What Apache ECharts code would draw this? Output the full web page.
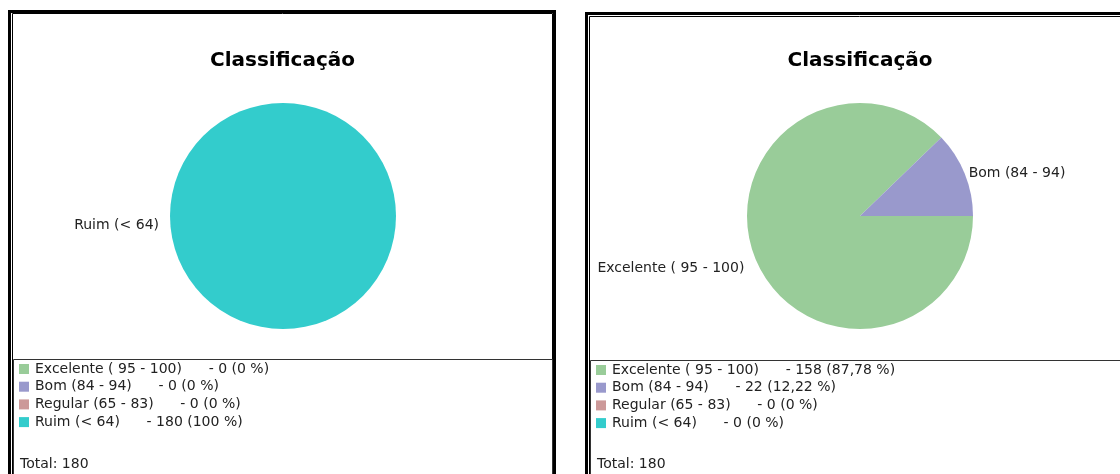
<!DOCTYPE html>
<html>
<head>
<meta charset="utf-8">
<script src="https://cdn.jsdelivr.net/npm/echarts@6/dist/echarts.min.js"></script>
<style>
  html, body { margin: 0; padding: 0; width: 1120px; height: 474px; overflow: hidden; background: #fff; }
  .panel { position: absolute; height: 464px; }
</style>
</head>
<body>
<div id="left" class="panel" style="left:8px; top:10px; width:549px;"></div>
<div id="right" class="panel" style="left:585px; top:12px; width:550px;"></div>
<script>
// Classification ranges and their colours
const categories = ['Excelente ( 95 - 100)', 'Bom (84 - 94)', 'Regular (65 - 83)', 'Ruim (< 64)'];
const colors = ['#99CC99', '#9999CC', '#CC9999', '#33CCCC'];

// Counts per range for each group
const valuesLeft = [0, 0, 0, 180];
const valuesRight = [158, 22, 0, 0];

const chartTitle = 'Classificação';
const FONT = '"DejaVu Sans", Verdana, sans-serif';
const PIE_CX = 275;

function pctText(v, total) {
  const p = total ? v / total * 100 : 0;
  return String(Math.round(p * 100) / 100).replace('.', ',') + ' %';
}

function buildOption(values, frame) {
  const total = values.reduce((a, b) => a + b, 0);
  const data = categories.map((name, i) => ({
    name: name,
    value: values[i],
    itemStyle: { color: colors[i] },
    label: { show: values[i] > 0 }
  }));
  return {
    animation: false,
    title: [
      {
        text: chartTitle,
        left: 'center',
        top: frame.titleTop,
        textStyle: { fontFamily: FONT, fontSize: 20, fontWeight: 'bold', color: '#000' }
      },
      {
        text: 'Total: ' + total,
        left: 12,
        top: frame.totalTop,
        padding: 0,
        textStyle: { fontFamily: FONT, fontSize: 14, lineHeight: 16, fontWeight: 'normal', color: '#222' }
      }
    ],
    legend: {
      orient: 'vertical',
      left: 11,
      top: frame.legendTop,
      padding: 0,
      itemWidth: 10,
      itemHeight: 10,
      itemGap: 3.7,
      icon: 'rect',
      selectedMode: false,
      data: categories,
      textStyle: { fontFamily: FONT, fontSize: 14, lineHeight: 14, color: '#222', padding: [0, 0, 0, 1] },
      formatter: function (name) {
        const i = categories.indexOf(name);
        return name + '      - ' + values[i] + ' (' + pctText(values[i], total) + ')';
      }
    },
    graphic: [
      { type: 'rect', silent: true, shape: { x: 1.5, y: 1.5, width: 545, height: 520 },
        style: { fill: null, stroke: '#000', lineWidth: 3 } },
      { type: 'rect', silent: true, shape: { x: 4.5, y: frame.innerTop, width: 540, height: 520 },
        style: { fill: null, stroke: '#000', lineWidth: 1 } },
      { type: 'rect', silent: true, shape: { x: 5.5, y: frame.legendBoxTop, width: 539, height: 200 },
        style: { fill: null, stroke: '#333', lineWidth: 1 } }
    ],
    series: [{
      type: 'pie',
      center: [PIE_CX, frame.pieY],
      radius: 113,
      startAngle: 0,
      clockwise: true,
      avoidLabelOverlap: false,
      silent: true,
      itemStyle: { borderWidth: 0 },
      label: {
        position: 'outside',
        fontFamily: FONT,
        fontSize: 14,
        color: '#222',
        distanceToLabelLine: 0
      },
      labelLine: { show: false, length: 2, length2: 2 },
      // labels on the left side sit a little lower and further out
      labelLayout: function (p) {
        const r = p.labelRect;
        if (r.x + r.width / 2 < PIE_CX) {
          return { dx: -7, dy: 9.5 };
        }
        return {};
      },
      emphasis: { disabled: true },
      data: data
    }]
  };
}

const leftChart = echarts.init(document.getElementById('left'));
leftChart.setOption(buildOption(valuesLeft, {
  titleTop: 36, totalTop: 446, legendTop: 352, innerTop: 3.5, legendBoxTop: 349.5, pieY: 206
}));

const rightChart = echarts.init(document.getElementById('right'));
rightChart.setOption(buildOption(valuesRight, {
  titleTop: 34, totalTop: 444, legendTop: 351, innerTop: 4.5, legendBoxTop: 348.5, pieY: 204
}));
</script>
</body>
</html>
